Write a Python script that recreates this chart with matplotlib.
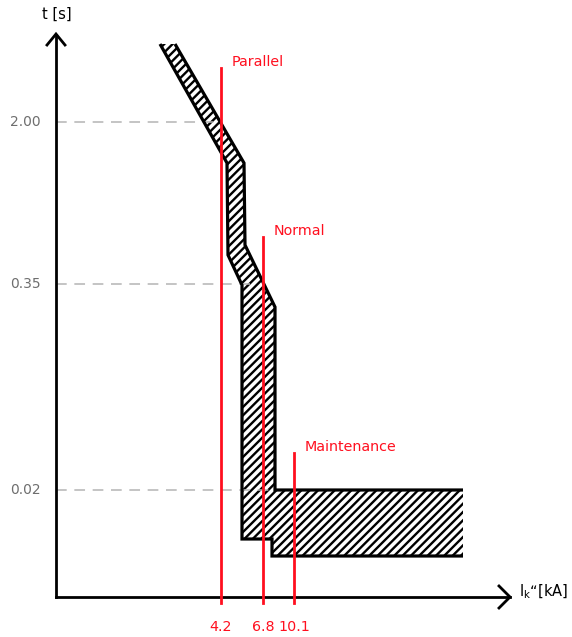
import matplotlib
matplotlib.use("Agg")
import matplotlib.pyplot as plt
from matplotlib.patches import Polygon

plt.rcParams['font.family'] = ['DejaVu Sans']
plt.rcParams['hatch.linewidth'] = 1.7

# Schematic coordinates (origin at axes corner)
# Tripping band: lower (left) boundary and upper (right) boundary
band_left_x = [104, 171, 172, 186, 186, 216, 216, 407]
band_left_y = [553, 434, 342, 312, 58, 58, 41, 41]
band_right_x = [119, 188, 189, 219, 219, 407]
band_right_y = [553, 434, 352, 290, 107, 107]

# Short-circuit current cases
case_names = ["Parallel", "Normal", "Maintenance"]
case_x = [165, 207, 238]
case_top = [529, 360, 144]
case_ticklabels = ["4.2", "6.8", "10.1"]

# Time levels
time_labels = ["2.00", "0.35", "0.02"]
time_y = [475, 313, 107]
time_dash_end = [166, 200, 224]

RED = "#FF0F1F"
GRAY_TXT = "#6e6e6e"
GRAY_DASH = "#b4b4b4"

fig = plt.figure(figsize=(5.72, 6.37), dpi=100)
ax = fig.add_axes([0, 0, 1, 1])
ax.set_xlim(-56, 516)
ax.set_ylim(-40, 597)
ax.axis("off")

# dashed time levels
for lab, y, xe in zip(time_labels, time_y, time_dash_end):
    ax.plot([0, xe], [y, y], color=GRAY_DASH, lw=1.1, dashes=(7, 5), zorder=2.5)
    ax.text(-15, y, lab, color=GRAY_TXT, fontsize=10, ha="right", va="center")

# hatched band
poly_x = band_left_x + band_right_x[::-1]
poly_y = band_left_y + band_right_y[::-1]
ax.add_patch(Polygon(list(zip(poly_x, poly_y)), closed=True, facecolor="white",
                     edgecolor="black", hatch="////", lw=0, zorder=2))
ax.plot(band_left_x, band_left_y, color="black", lw=2.3, zorder=3,
        solid_joinstyle="miter", solid_capstyle="butt")
ax.plot(band_right_x, band_right_y, color="black", lw=2.3, zorder=3,
        solid_joinstyle="miter", solid_capstyle="butt")

# axes with open arrow heads
ax.plot([0, 0], [0, 562], color="black", lw=2, zorder=4)
ax.plot([0, 454], [0, 0], color="black", lw=2, zorder=4)
ax.plot([-9, 0, 9], [552, 563, 552], color="black", lw=2, zorder=4,
        solid_joinstyle="miter")
ax.plot([443, 454, 443], [11, 0, -11], color="black", lw=2, zorder=4,
        solid_joinstyle="miter")
ax.text(1, 583, "t [s]", fontsize=10.5, ha="center", va="center", color="black")
ax.text(463, 5, "I$_\\mathregular{k}$“[kA]", fontsize=10.5, ha="left", va="center",
        color="black")

# red case lines
for name, x, top, tl in zip(case_names, case_x, case_top, case_ticklabels):
    ax.plot([x, x], [-6, top], color=RED, lw=2, zorder=5)
    ax.text(x + 11, top + 6, name, color=RED, fontsize=10.3, ha="left", va="center")
    ax.text(x, -30, tl, color=RED, fontsize=10.3, ha="center", va="center")

fig.savefig("out.png", dpi=100)
